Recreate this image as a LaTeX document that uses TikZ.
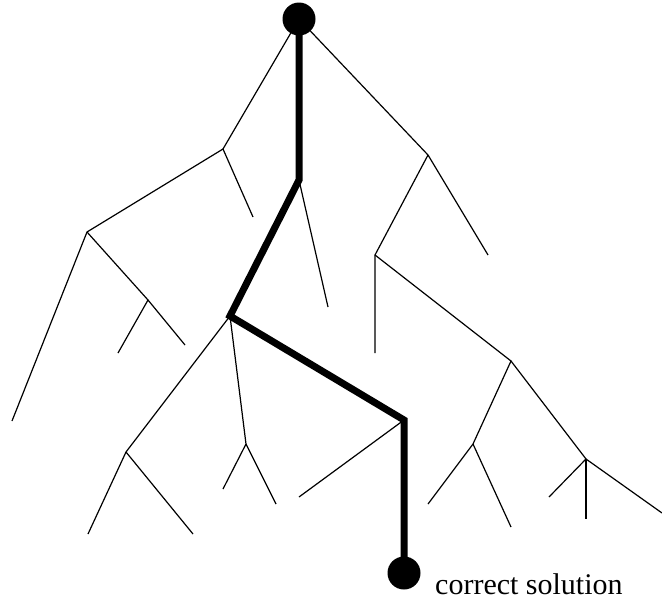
\documentclass[tikz,border=0pt]{standalone}
\usepackage{fontspec}
\setmainfont{Liberation Serif}
\begin{document}
\begin{tikzpicture}[x=1pt,y=-1pt,
  thin edge/.style={line width=1.2pt},
  sol edge/.style={line width=7pt, line join=miter},
  endpoint/.style={circle, fill=black, inner sep=0pt, minimum size=33pt}]
\useasboundingbox (0,0) rectangle (662,600);
\coordinate (R) at (299,19);
\coordinate (A) at (223,149); \coordinate (a1) at (253,217);
\coordinate (B) at (87,232);  \coordinate (b1) at (12,421);
\coordinate (C) at (148,300); \coordinate (c1) at (118,353); \coordinate (c2) at (185,345);
\coordinate (D) at (299,180); \coordinate (d1) at (328,307);
\coordinate (E) at (230,316);
\coordinate (F) at (126,452); \coordinate (f1) at (88,534); \coordinate (f2) at (193,534);
\coordinate (G) at (246,444); \coordinate (g1) at (223,489); \coordinate (g2) at (276,504);
\coordinate (H) at (404,420); \coordinate (h1) at (299,497);
\coordinate (S) at (404,573);
\coordinate (J) at (428,155); \coordinate (j1) at (488,255);
\coordinate (K) at (375,255); \coordinate (k1) at (375,353);
\coordinate (L) at (511,361);
\coordinate (M) at (473,444); \coordinate (m1) at (428,504); \coordinate (m2) at (511,527);
\coordinate (N) at (586,459); \coordinate (n1) at (549,497); \coordinate (n2) at (586,519); \coordinate (n3) at (662,513);
% thin branches
\draw[thin edge] (R) -- (A) -- (a1);
\draw[thin edge] (A) -- (B) -- (b1);
\draw[thin edge] (B) -- (C) -- (c1);
\draw[thin edge] (C) -- (c2);
\draw[thin edge] (D) -- (d1);
\draw[thin edge] (E) -- (F) -- (f1);
\draw[thin edge] (F) -- (f2);
\draw[thin edge] (E) -- (G) -- (g1);
\draw[thin edge] (G) -- (g2);
\draw[thin edge] (H) -- (h1);
\draw[thin edge] (R) -- (J) -- (j1);
\draw[thin edge] (J) -- (K) -- (k1);
\draw[thin edge] (K) -- (L) -- (M) -- (m1);
\draw[thin edge] (M) -- (m2);
\draw[thin edge] (L) -- (N) -- (n1);
\draw[thin edge] (N) -- (n2);
\draw[thin edge] (N) -- (n3);
% solution path
\draw[sol edge] (R) -- (D) -- (E) -- (H) -- (S);
\node[endpoint] (root) at (R) {};
\node[endpoint] (sol) at (S) {};
\node[anchor=base west, inner sep=0pt, font=\fontsize{30}{36}\selectfont] (lbl) at (435,594) {correct solution};
\end{tikzpicture}
\end{document}
